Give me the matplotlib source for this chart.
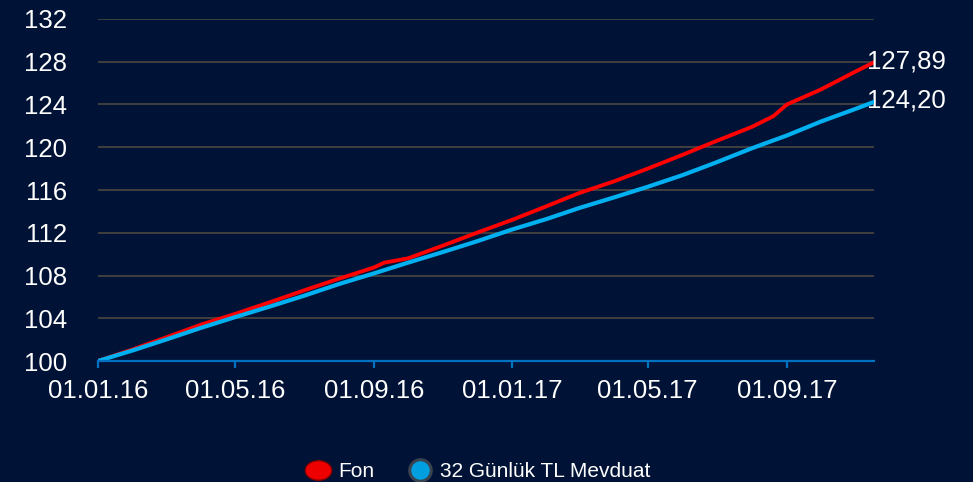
import matplotlib
matplotlib.use('Agg')
import matplotlib.pyplot as plt
import matplotlib.dates as mdates
from matplotlib.lines import Line2D
from matplotlib.path import Path
import pandas as pd

plt.rcParams['font.family'] = ['Liberation Sans', 'DejaVu Sans']

# values
fon_dates = ['2016-01-01', '2016-02-01', '2016-03-01', '2016-04-01', '2016-05-01', '2016-06-01',
             '2016-07-01', '2016-08-01', '2016-09-01', '2016-09-10', '2016-10-01', '2016-11-01',
             '2016-12-01', '2017-01-01', '2017-02-01', '2017-03-01', '2017-04-01', '2017-05-01',
             '2017-06-01', '2017-07-01', '2017-08-01', '2017-08-20', '2017-09-01', '2017-10-01',
             '2017-11-01', '2017-11-16']
fon = [100.0, 101.1, 102.2, 103.4, 104.4, 105.5,
       106.6, 107.7, 108.75, 109.2, 109.6, 110.8,
       112.0, 113.2, 114.5, 115.7, 116.8, 118.0,
       119.3, 120.6, 121.9, 122.9, 124.0, 125.4,
       127.1, 127.89]

mevduat_dates = ['2016-01-01', '2016-02-01', '2016-03-01', '2016-04-01', '2016-05-01', '2016-06-01',
                 '2016-07-01', '2016-08-01', '2016-09-01', '2016-10-01', '2016-11-01', '2016-12-01',
                 '2017-01-01', '2017-02-01', '2017-03-01', '2017-04-01', '2017-05-01', '2017-06-01',
                 '2017-07-01', '2017-08-01', '2017-09-01', '2017-10-01', '2017-11-01', '2017-11-16']
mevduat = [100.0, 101.0, 102.0, 103.1, 104.1, 105.1,
           106.1, 107.2, 108.2, 109.2, 110.2, 111.2,
           112.3, 113.3, 114.3, 115.3, 116.3, 117.4,
           118.6, 119.9, 121.1, 122.4, 123.6, 124.2]

tick_dates = ['2016-01-01', '2016-05-01', '2016-09-01', '2017-01-01', '2017-05-01', '2017-09-01']
yticks = [100, 104, 108, 112, 116, 120, 124, 128, 132]

bg = '#001235'
fon_x = pd.to_datetime(fon_dates)
mev_x = pd.to_datetime(mevduat_dates)

fig = plt.figure(figsize=(9.73, 4.82), dpi=100, facecolor=bg)
ax = fig.add_axes([0.1007, 0.251, 0.7975, 0.7096])
ax.set_facecolor(bg)

for y in yticks[1:]:
    ax.axhline(y, color='#404040', lw=1.4, zorder=1)

ax.plot(fon_x, fon, color='#ff0000', lw=2.8, zorder=3)
ax.plot(mev_x, mevduat, color='#00b0f0', lw=3.0, zorder=4)

ax.annotate('127,89', (fon_x[-1], fon[-1]), xytext=(-4, 1), textcoords='offset points',
            ha='left', va='center', color='white', fontsize=18.5)
ax.annotate('124,20', (mev_x[-1], mevduat[-1]), xytext=(-4, 1), textcoords='offset points',
            ha='left', va='center', color='white', fontsize=18.5)

ax.set_ylim(100, 132)
ax.set_xlim(fon_x[0], fon_x[-1] + pd.Timedelta(days=1))
ax.set_yticks(yticks)
ax.set_xticks(pd.to_datetime(tick_dates))
ax.xaxis.set_major_formatter(mdates.DateFormatter('%d.%m.%y'))

for s in ['top', 'right', 'left']:
    ax.spines[s].set_visible(False)
ax.spines['bottom'].set_color('#0070c0')
ax.spines['bottom'].set_linewidth(1.6)
ax.spines['bottom'].set_zorder(5)
ax.tick_params(axis='x', colors='#0070c0', length=5, width=1.6, labelcolor='white',
               labelsize=18.5, pad=8)
ax.tick_params(axis='y', length=0, labelcolor='white', labelsize=18.5, pad=22)

# flat ellipse for the red legend key
circ = Path.unit_circle()
ellipse = Path(circ.vertices * [1.0, 0.74], circ.codes)

handles = [Line2D([], [], ls='none', marker=ellipse, markersize=19, markerfacecolor='#ee0000',
                  markeredgecolor='#8a0000', markeredgewidth=1),
           Line2D([], [], ls='none', marker='o', markersize=15.5, markerfacecolor='#00a0e0',
                  markeredgecolor='#3a4450', markeredgewidth=2.2)]
leg = fig.legend(handles, ['Fon', '32 Günlük TL Mevduat'], loc='lower center',
                 bbox_to_anchor=(0.49, -0.037), ncol=2, frameon=False, fontsize=15,
                 labelcolor='white', handlelength=1.4, handletextpad=0.25, columnspacing=1.5)

fig.savefig('out.png', dpi=100, facecolor=bg)
